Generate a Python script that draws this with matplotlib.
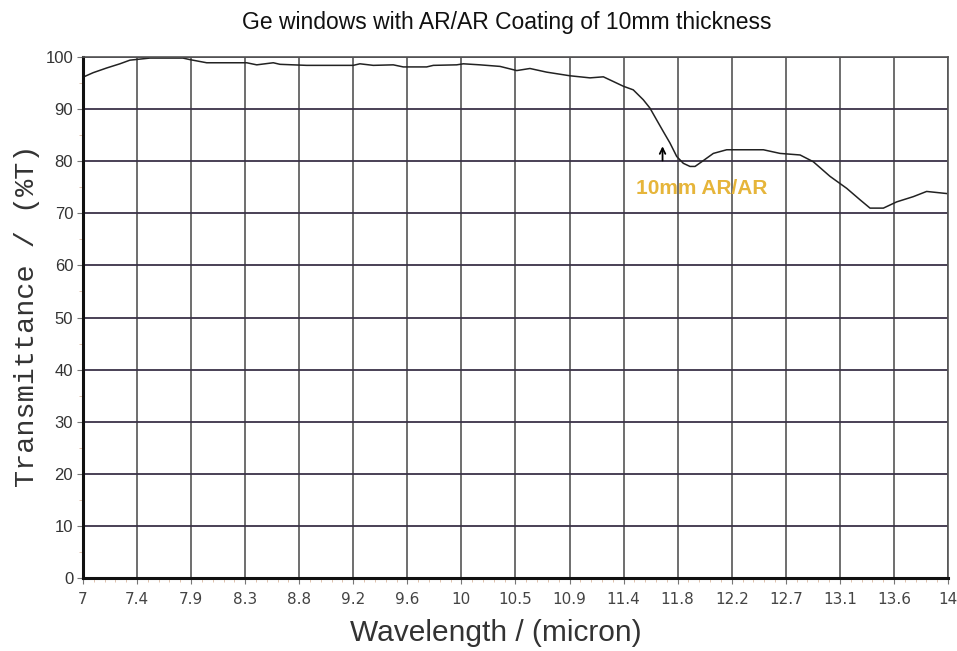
import matplotlib
matplotlib.use("Agg")
import matplotlib.pyplot as plt
from matplotlib import font_manager
from matplotlib.ticker import AutoMinorLocator

# transmittance curve
wavelength = [7.016, 7.083, 7.192, 7.299, 7.380, 7.461, 7.542, 7.809, 7.866, 8.001,
              8.325, 8.406, 8.540, 8.594, 8.810, 9.187, 9.241, 9.349, 9.511, 9.592,
              9.781, 9.835, 10.024, 10.078, 10.213, 10.375, 10.51, 10.617, 10.752, 10.941,
              11.103, 11.211, 11.292, 11.372, 11.453, 11.534, 11.588, 11.643, 11.696, 11.750,
              11.805, 11.858, 11.912, 11.953, 12.007, 12.101, 12.209, 12.344, 12.506, 12.641,
              12.803, 12.910, 13.045, 13.180, 13.288, 13.369, 13.477, 13.585, 13.719, 13.827,
              13.989]
transmittance = [96.3, 97.0, 97.9, 98.7, 99.4, 99.6, 99.8, 99.8, 99.5, 98.9,
                 98.9, 98.5, 98.9, 98.6, 98.4, 98.4, 98.7, 98.4, 98.5, 98.1,
                 98.1, 98.4, 98.5, 98.7, 98.5, 98.2, 97.4, 97.8, 97.1, 96.4,
                 96.0, 96.2, 95.3, 94.4, 93.7, 91.8, 90.2, 87.9, 85.7, 83.5,
                 80.9, 79.6, 79.0, 79.0, 79.9, 81.5, 82.2, 82.2, 82.2, 81.5,
                 81.2, 79.9, 77.1, 74.8, 72.6, 71.0, 71.0, 72.2, 73.2, 74.2,
                 73.8]

x_ticks = [7 + i * 7 / 16 for i in range(17)]
x_labels = ["7", "7.4", "7.9", "8.3", "8.8", "9.2", "9.6", "10", "10.5",
            "10.9", "11.4", "11.8", "12.2", "12.7", "13.1", "13.6", "14"]
y_ticks = list(range(0, 101, 10))

# condensed font for title and y ticks if available
names = {f.name for f in font_manager.fontManager.ttflist}
narrow = "Liberation Sans Narrow" if "Liberation Sans Narrow" in names else "Liberation Sans"

fig = plt.figure(figsize=(9.57, 6.51), dpi=100)
ax = fig.add_axes([0.0867, 0.1121, 0.9039, 0.8003])

ax.set_xlim(7, 14)
ax.set_ylim(0, 100)
ax.set_xticks(x_ticks)
ax.set_xticklabels(x_labels, fontfamily="DejaVu Sans", fontsize=11, color="#444444")
ax.set_yticks(y_ticks)
ax.set_yticklabels([str(v) for v in y_ticks], fontfamily=narrow,
                   fontsize=12, color="#333333")
ax.xaxis.set_minor_locator(AutoMinorLocator(5))
ax.yaxis.set_minor_locator(AutoMinorLocator(2))
ax.tick_params(axis="x", which="major", length=4, color="#777777", pad=6)
ax.tick_params(axis="y", which="major", length=4, color="#777777", pad=3)
ax.tick_params(axis="both", which="minor", length=3, color="#d9b8a0")

ax.grid(True, axis="x", which="major", color="#555555", linewidth=1.2)
ax.grid(True, axis="y", which="major", color="#3a3148", linewidth=1.3)

for side in ("top", "right"):
    ax.spines[side].set_color("#555555")
    ax.spines[side].set_linewidth(1.2)
for side in ("left", "bottom"):
    ax.spines[side].set_color("#111111")
    ax.spines[side].set_linewidth(2.2)

ax.plot(wavelength, transmittance, color="#222222", linewidth=1.1)

ax.annotate("", xy=(11.69, 83.4), xytext=(11.69, 79.6),
            arrowprops=dict(arrowstyle="->", color="black", lw=1.3))
ax.text(12.01, 74.8, "10mm AR/AR", color="#e6b53a", fontsize=15, fontweight="bold",
        fontfamily="Liberation Sans", ha="center", va="center")

fig.text(0.530, 0.966, "Ge windows with AR/AR Coating of 10mm thickness",
         fontfamily=narrow, fontsize=16.5, ha="center", va="center",
         color="#111111")
fig.text(0.518, 0.028, "Wavelength / (micron)", fontfamily="Liberation Sans",
         fontsize=21.5, ha="center", va="center", color="#333333")
fig.text(0.028, 0.515, "Transmittance / (%T)", fontfamily="Liberation Mono",
         fontsize=20.5, ha="center", va="center", rotation=90, color="#333333")

fig.savefig("out.png", dpi=100)
